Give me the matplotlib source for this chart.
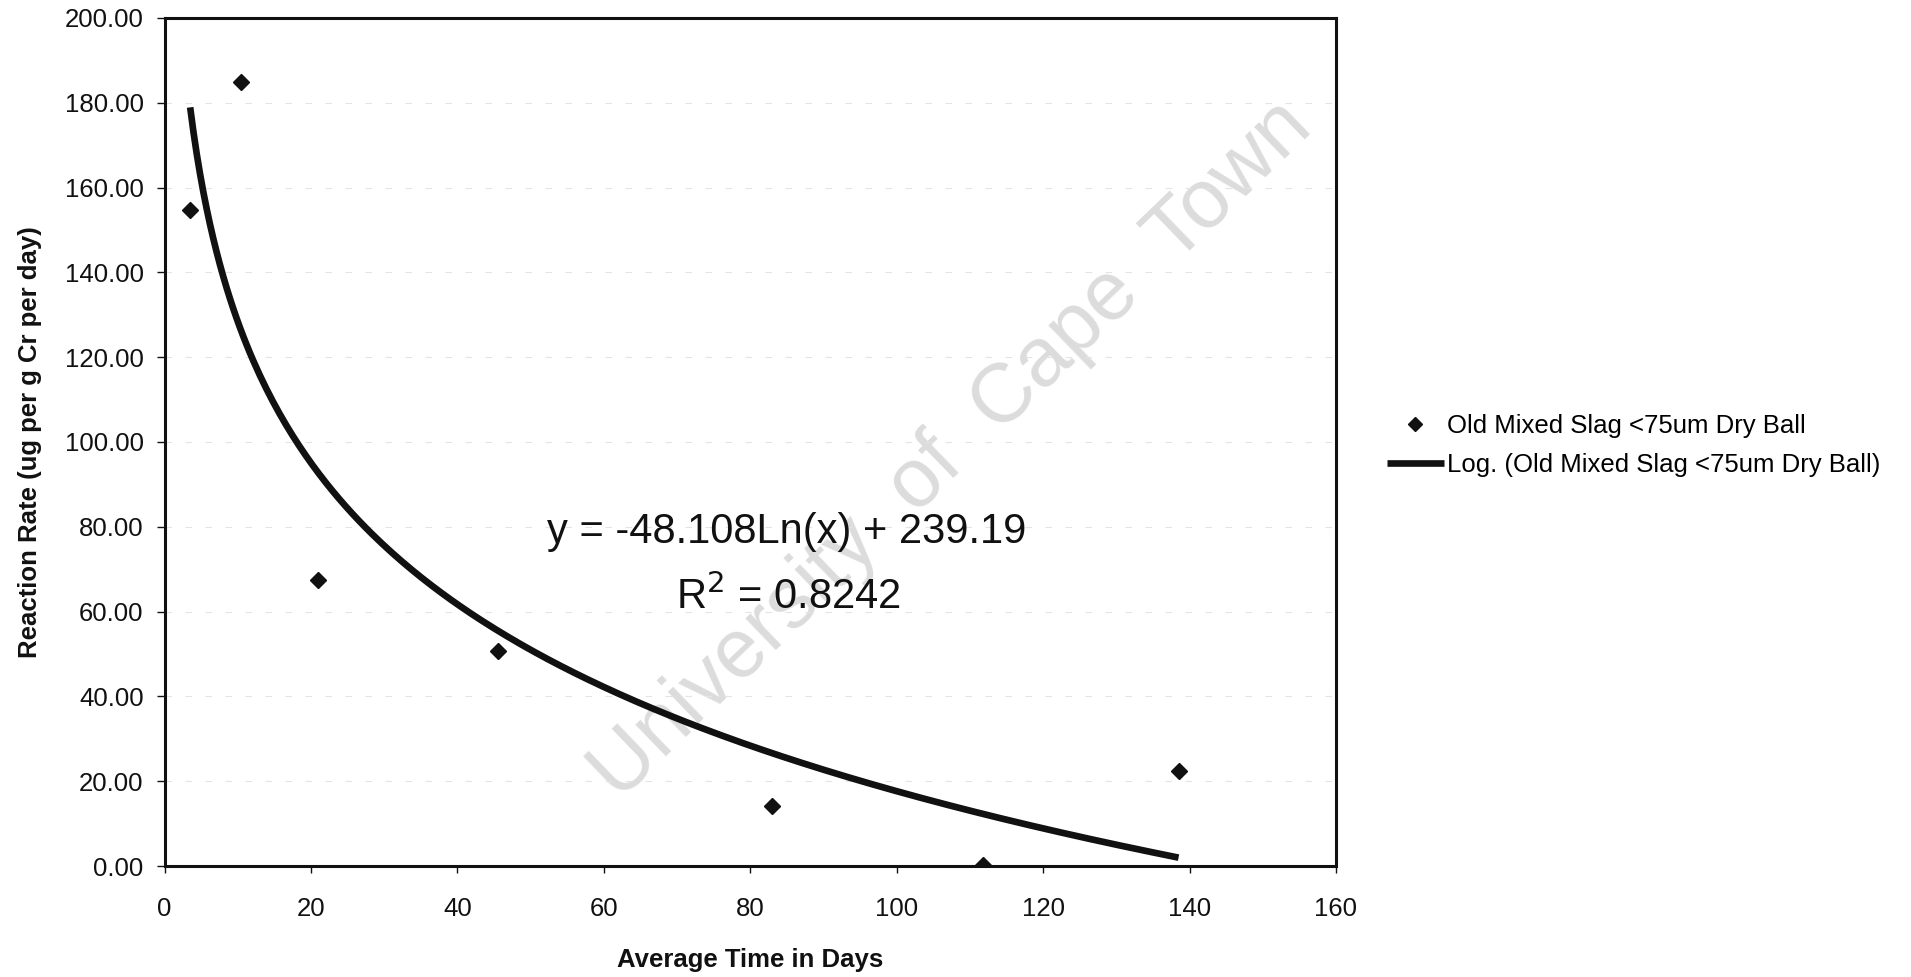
import numpy as np
import matplotlib
matplotlib.use("Agg")
import matplotlib.pyplot as plt

plt.rcParams['font.family'] = ['Liberation Sans', 'DejaVu Sans']

# Measured reaction rates
days = [3.5, 10.5, 21.0, 45.6, 83.0, 111.8, 138.5]
rate = [154.6, 185.0, 67.5, 50.6, 14.1, 0.2, 22.4]

# Logarithmic trendline coefficients
slope = -48.108
intercept = 239.19
r_squared = 0.8242

x_ticks = [0, 20, 40, 60, 80, 100, 120, 140, 160]
y_ticks = [0, 20, 40, 60, 80, 100, 120, 140, 160, 180, 200]

series_label = "Old Mixed Slag <75um Dry Ball"
trend_label = "Log. (Old Mixed Slag <75um Dry Ball)"

fig = plt.figure(figsize=(19.11, 9.77), dpi=100)
ax = fig.add_axes([0.0861, 0.1136, 0.6130, 0.8680])

# Faint horizontal gridlines
for yv in y_ticks[1:-1]:
    ax.axhline(yv, color='#e4e4e4', lw=0.8, dashes=(6, 12), zorder=1)

# Watermark
ax.text(0.672, 0.49, "University  of  Cape  Town", transform=ax.transAxes,
        rotation=44, rotation_mode='anchor', ha='center', va='center',
        fontsize=60, color='#dcdcdc', zorder=0)

xt = np.linspace(min(days), max(days), 300)
yt = slope * np.log(xt) + intercept
ax.plot(xt, yt, color='#111111', lw=4.8, solid_capstyle='butt', zorder=3,
        label=trend_label)
ax.plot(days, rate, linestyle='none', marker='D', ms=8.5, color='#111111',
        mec='#111111', zorder=4, label=series_label)

ax.set_xlim(0, 160)
ax.set_ylim(0, 200)
ax.set_xticks(x_ticks)
ax.set_yticks(y_ticks)
ax.set_yticklabels([f"{v:.2f}" for v in y_ticks])

for s in ax.spines.values():
    s.set_linewidth(2.2)
    s.set_color('#111111')

ax.tick_params(axis='y', direction='out', length=6, width=1, pad=9,
               labelsize=18.5, colors='#111111')
ax.tick_params(axis='x', direction='out', length=5, width=1, pad=17,
               labelsize=18.5, colors='#111111')

ax.set_xlabel("Average Time in Days", fontsize=18.5, fontweight='bold',
              labelpad=20, color='#111111')
ax.set_ylabel("Reaction Rate (ug per g Cr per day)", fontsize=18.5,
              fontweight='bold', labelpad=16, color='#111111')

ax.text(0.531, 0.394, f"y = {slope:.3f}Ln(x) + {intercept:.2f}",
        transform=ax.transAxes, ha='center', va='center', fontsize=30,
        color='#111111', zorder=5)
ax.text(0.533, 0.318, f"R$^2$ = {r_squared:.4f}", transform=ax.transAxes,
        ha='center', va='center', fontsize=30, color='#111111', zorder=5)

handles, labels = ax.get_legend_handles_labels()
order = [1, 0]
fig.legend([handles[i] for i in order], [labels[i] for i in order],
           loc='center left', bbox_to_anchor=(0.7258, 0.544),
           frameon=False, fontsize=18.5, handlelength=2.2, handletextpad=0.12,
           labelspacing=0.55, borderpad=0, borderaxespad=0, markerscale=0.8)

fig.savefig("out.png", dpi=100, facecolor='white')
